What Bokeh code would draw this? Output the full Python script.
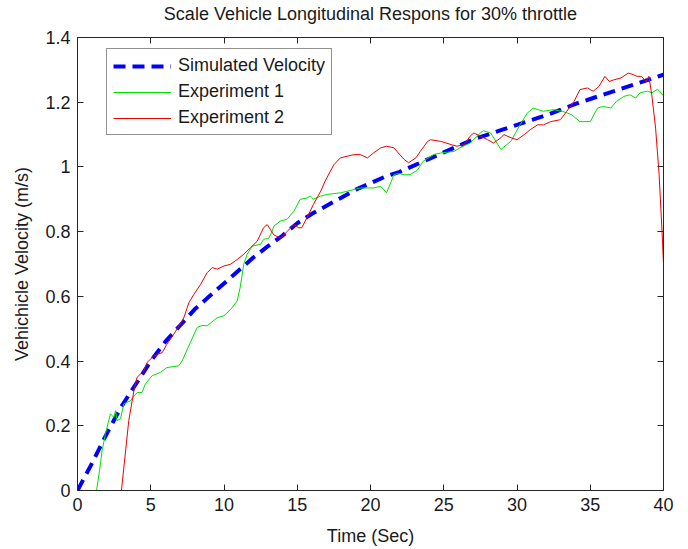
from bokeh.plotting import figure
from bokeh.models import LinearAxis, FixedTicker, CustomJSTickFormatter, Range1d, Legend, LegendItem
from bokeh.embed import file_html
from bokeh.resources import INLINE

# ---- data ----
sim_t = [0, 1, 2, 3, 4, 5, 6, 7, 8, 9, 10, 11, 12, 13, 14, 15, 16, 17, 18, 19, 20,
         21, 22, 23, 24, 25, 26, 27, 28, 29, 30, 31, 32, 33, 34, 35, 36, 37, 38, 39, 40]
sim_v = [0.0, 0.085, 0.176, 0.26, 0.33, 0.40, 0.46, 0.51, 0.56, 0.60, 0.64, 0.68, 0.72,
         0.755, 0.788, 0.826, 0.855, 0.88, 0.905, 0.93, 0.95, 0.97, 0.985, 1.005, 1.025,
         1.045, 1.065, 1.085, 1.10, 1.115, 1.13, 1.145, 1.16, 1.177, 1.195, 1.21, 1.225,
         1.24, 1.255, 1.27, 1.285]

exp1_t = [1.3, 1.5, 1.68, 1.91, 2.1, 2.25, 2.48, 2.6, 2.7, 2.94, 3.16, 3.6, 4.07, 4.4, 4.64,
          5.1, 5.66, 6.1, 6.9, 7.14, 7.6, 8.17, 8.5, 8.85, 9.53, 10.0, 10.56, 10.9, 11.1,
          11.35, 11.58, 11.92, 12.5, 12.7, 13.06, 13.28, 13.4, 13.86, 14.3, 14.77, 15.2,
          15.67, 15.9, 16.1, 16.6, 17.04, 17.95, 18.6, 19.3, 20.2, 20.7, 21.1, 21.6, 21.9,
          22.3, 22.7, 23.2, 23.6, 24.3, 24.8, 25.7, 26.1, 26.8, 27.5, 27.7, 28.2, 28.9,
          29.6, 30.2, 30.7, 31.1, 31.8, 32.5, 33.1, 33.7, 34.3, 35.0, 35.5, 35.9, 36.4,
          36.8, 37.3, 37.7, 38.1, 38.4, 38.9, 39.2, 39.6, 40.0]
exp1_v = [0.0, 0.06, 0.123, 0.176, 0.21, 0.237, 0.226, 0.247, 0.216, 0.222, 0.268, 0.277,
          0.303, 0.303, 0.33, 0.355, 0.365, 0.38, 0.385, 0.40, 0.447, 0.504, 0.51, 0.509,
          0.534, 0.54, 0.565, 0.586, 0.627, 0.699, 0.73, 0.755, 0.761, 0.776, 0.78, 0.80,
          0.817, 0.833, 0.838, 0.863, 0.90, 0.904, 0.91, 0.90, 0.91, 0.915, 0.92, 0.927,
          0.935, 0.935, 0.94, 0.92, 0.976, 0.98, 0.976, 0.976, 0.99, 1.018, 1.038, 1.043,
          1.048, 1.059, 1.074, 1.105, 1.112, 1.105, 1.054, 1.08, 1.13, 1.166, 1.182, 1.172,
          1.177, 1.172, 1.162, 1.14, 1.14, 1.182, 1.187, 1.182, 1.203, 1.218, 1.223, 1.213,
          1.229, 1.234, 1.229, 1.24, 1.22]

exp2_t = [3.0, 3.5, 3.85, 4.07, 4.53, 4.75, 5.1, 5.44, 5.78, 6.1, 6.57, 7.0, 7.26, 7.6, 7.94,
          8.4, 8.85, 9.2, 9.53, 10.0, 10.44, 10.9, 11.35, 11.8, 12.26, 12.7, 12.95, 13.4,
          13.86, 14.3, 14.77, 15.1, 15.3, 15.67, 16.1, 16.6, 16.9, 17.5, 17.95, 18.4, 18.86,
          19.3, 19.8, 20.2, 20.7, 21.1, 21.6, 21.9, 22.3, 22.6, 23.1, 23.4, 23.9, 24.1, 24.8,
          25.5, 25.9, 26.4, 26.8, 27.05, 27.5, 28.0, 28.4, 28.9, 29.1, 29.6, 30.0, 30.5,
          30.9, 31.4, 31.8, 32.3, 32.97, 33.4, 33.9, 34.3, 34.8, 35.2, 35.6, 36.0, 36.3,
          36.6, 37.1, 37.6, 37.95, 38.2, 38.5, 38.8, 39.0, 39.2, 39.46, 39.7, 39.9, 40.0]
exp2_v = [0.0, 0.216, 0.308, 0.35, 0.37, 0.396, 0.411, 0.421, 0.426, 0.452, 0.483, 0.514,
          0.534, 0.58, 0.606, 0.637, 0.673, 0.689, 0.684, 0.694, 0.699, 0.714, 0.73, 0.75,
          0.77, 0.812, 0.822, 0.79, 0.78, 0.80, 0.822, 0.812, 0.812, 0.843, 0.884, 0.925,
          0.956, 1.007, 1.028, 1.033, 1.038, 1.038, 1.028, 1.043, 1.059, 1.064, 1.059, 1.043,
          1.023, 1.013, 1.028, 1.048, 1.079, 1.084, 1.079, 1.069, 1.064, 1.069, 1.095, 1.105,
          1.095, 1.084, 1.074, 1.09, 1.10, 1.09, 1.084, 1.10, 1.115, 1.13, 1.13, 1.14, 1.146,
          1.172, 1.203, 1.239, 1.244, 1.234, 1.249, 1.28, 1.264, 1.269, 1.275, 1.29, 1.285,
          1.28, 1.28, 1.264, 1.28, 1.223, 1.12, 0.977, 0.80, 0.70]

x_ticks = [0, 5, 10, 15, 20, 25, 30, 35, 40]
y_ticks = [0, 0.2, 0.4, 0.6, 0.8, 1.0, 1.2, 1.4]

title_text = "Scale Vehicle Longitudinal Respons for 30% throttle"
x_label = "Time (Sec)"
y_label = "Vehichicle Velocity (m/s)"
series_names = ["Simulated Velocity", "Experiment 1", "Experiment 2"]

FONT = "Liberation Sans"
FS = "18px"
TXT = "#1a1a1a"
AX = "#262626"

p = figure(width=688, height=549, output_backend="svg", toolbar_location=None,
           x_range=Range1d(0, 40), y_range=Range1d(0, 1.4),
           x_axis_location=None, y_axis_location=None,
           min_border_left=77, min_border_right=25, min_border_top=36, min_border_bottom=59)
p.grid.visible = False
p.outline_line_color = AX
p.outline_line_width = 1
p.background_fill_color = "white"
p.border_fill_color = "white"

num_fmt = CustomJSTickFormatter(code="return tick.toFixed(1).replace(/\\.0$/, '');")
blank_fmt = CustomJSTickFormatter(code="return '';")

def style_axis(ax, ticks, fmt, label=None):
    ax.ticker = FixedTicker(ticks=ticks)
    ax.formatter = fmt
    ax.major_tick_in = 6
    ax.major_tick_out = 0
    ax.minor_tick_line_color = None
    ax.axis_line_color = AX
    ax.major_tick_line_color = AX
    ax.major_label_text_font = FONT
    ax.major_label_text_font_size = FS
    ax.major_label_text_color = TXT
    ax.major_label_standoff = 7
    if label is not None:
        ax.axis_label = label
        ax.axis_label_text_font = FONT
        ax.axis_label_text_font_size = FS
        ax.axis_label_text_font_style = "normal"
        ax.axis_label_text_color = TXT
        ax.axis_label_standoff = 12

xb = LinearAxis()
style_axis(xb, x_ticks, num_fmt, x_label)
p.add_layout(xb, "below")
yl = LinearAxis()
style_axis(yl, y_ticks, num_fmt, y_label)
yl.axis_label_standoff = 10
p.add_layout(yl, "left")
# top axis: ticks only, carries the chart title as its label
xt = LinearAxis()
style_axis(xt, x_ticks, blank_fmt, title_text)
xt.major_label_standoff = 0
xt.major_label_text_font_size = "1px"
xt.axis_label_standoff = 14
p.add_layout(xt, "above")
yr = LinearAxis()
style_axis(yr, y_ticks, blank_fmt)
yr.major_label_standoff = 0
yr.major_label_text_font_size = "1px"
p.add_layout(yr, "right")

r_sim = p.line(sim_t, sim_v, line_color="#0000ff", line_width=4, line_dash="12 7")
r_e1 = p.line(exp1_t, exp1_v, line_color="#00e000", line_width=1)
r_e2 = p.line(exp2_t, exp2_v, line_color="#ee0000", line_width=1)

legend = Legend(items=[LegendItem(label=series_names[0], renderers=[r_sim]),
                       LegendItem(label=series_names[1], renderers=[r_e1]),
                       LegendItem(label=series_names[2], renderers=[r_e2])],
                location=(29, 355))
legend.margin = 0
legend.padding = 6
legend.spacing = 5
legend.glyph_width = 58
legend.glyph_height = 18
legend.label_height = 18
legend.label_standoff = 7
legend.label_text_font = FONT
legend.label_text_font_size = FS
legend.label_text_color = TXT
legend.border_line_color = AX
legend.border_line_width = 1
legend.background_fill_color = "white"
legend.background_fill_alpha = 1
p.add_layout(legend, "center")

open("out.html", "w").write(file_html(p, INLINE))
